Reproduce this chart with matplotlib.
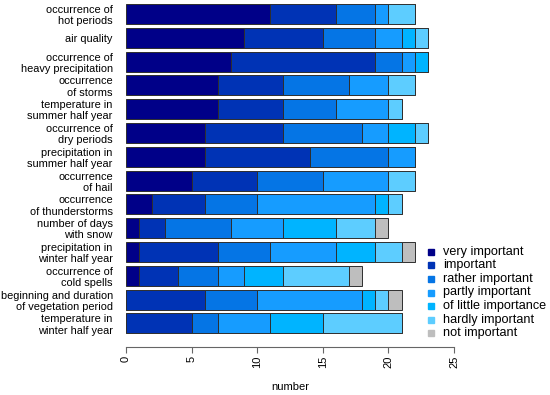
import numpy as np
import matplotlib
matplotlib.use("Agg")
import matplotlib.pyplot as plt
from matplotlib.lines import Line2D

plt.rcParams['font.family'] = ['Liberation Sans', 'DejaVu Sans']

categories = [
    "occurrence of\nhot periods",
    "air quality",
    "occurrence of\nheavy precipitation",
    "occurrence\nof storms",
    "temperature in\nsummer half year",
    "occurrence of\ndry periods",
    "precipitation in\nsummer half year",
    "occurrence\nof hail",
    "occurrence\nof thunderstorms",
    "number of days\nwith snow",
    "precipitation in\nwinter half year",
    "occurrence of\ncold spells",
    "beginning and duration\nof vegetation period",
    "temperature in\nwinter half year",
]

levels = ["very important", "important", "rather important", "partly important",
          "of little importance", "hardly important", "not important"]

very_important = [11, 9, 8, 7, 7, 6, 6, 5, 2, 1, 1, 1, 0, 0]
important = [5, 6, 11, 5, 5, 6, 8, 5, 4, 2, 6, 3, 6, 5]
rather_important = [3, 4, 2, 5, 4, 6, 6, 5, 4, 5, 4, 3, 4, 2]
partly_important = [1, 2, 1, 3, 4, 2, 2, 5, 9, 4, 5, 2, 8, 4]
little_importance = [0, 1, 1, 0, 0, 2, 0, 0, 1, 4, 3, 3, 1, 4]
hardly_important = [2, 1, 0, 2, 1, 1, 0, 2, 1, 3, 2, 5, 1, 6]
not_important = [0, 0, 0, 0, 0, 0, 0, 0, 0, 1, 1, 1, 1, 0]

x_ticks = [0, 5, 10, 15, 20, 25]

series = [very_important, important, rather_important, partly_important,
          little_importance, hardly_important, not_important]
colors = ["#000088", "#0033b5", "#0575e5", "#169cff", "#00b4ff", "#5dcdff", "#bebebe"]

W, H = 550, 395
fig = plt.figure(figsize=(W / 100, H / 100), dpi=100)
# plot region: x=0 at 126 px, x=25 at 454 px; axis line at y=347 px
ax = fig.add_axes([126 / W, (H - 347) / H, 328 / W, 347 / H])

y = np.arange(len(categories))
left = np.zeros(len(categories))
for vals, col in zip(series, colors):
    vals = np.array(vals, dtype=float)
    ax.barh(y, vals, left=left, height=0.84, color=col,
            edgecolor="#2e2e2e", linewidth=0.7)
    left += vals

ax.set_xlim(0, 25)
ax.set_ylim(13.99, -0.588)
for s in ["top", "right", "left"]:
    ax.spines[s].set_visible(False)
ax.spines["bottom"].set_bounds(0, 25)
ax.spines["bottom"].set_color("#666666")
ax.set_xticks(x_ticks)
ax.set_xticklabels([str(t) for t in x_ticks], rotation=90, fontsize=8)
ax.tick_params(axis="x", direction="out", length=4, color="#666666", pad=2.5)
ax.set_yticks(y)
ax.set_yticklabels(categories, fontsize=7.9, linespacing=1.15)
for lbl in ax.get_yticklabels():
    lbl.set_multialignment("right")
ax.tick_params(axis="y", length=0, pad=9.5)
ax.set_xlabel("number", fontsize=8, labelpad=10)

# legend, laid out row by row
for i, (lab, col) in enumerate(zip(levels, colors)):
    yy = 1 - (251.7 + i * 13.6) / H
    fig.add_artist(Line2D([430.7 / W], [yy], marker="s", markersize=4,
                          color=col, linestyle="none", transform=fig.transFigure))
    fig.text(442.7 / W, yy, lab, va="center", ha="left", fontsize=9.1)

fig.savefig("out.png", dpi=100)
